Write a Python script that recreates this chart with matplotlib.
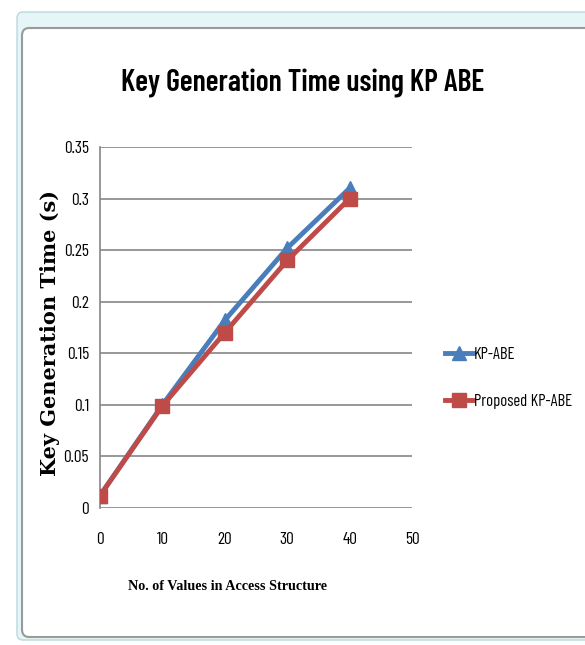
import matplotlib
matplotlib.use("Agg")
import matplotlib.pyplot as plt
from matplotlib.patches import FancyBboxPatch

x_values = [0, 10, 20, 30, 40]
kp_abe = [0.012, 0.100, 0.182, 0.252, 0.310]
proposed_kp_abe = [0.012, 0.099, 0.170, 0.240, 0.300]
series_names = ["KP-ABE", "Proposed KP-ABE"]
title = "Key Generation Time using KP ABE"
xlabel = "No. of Values in Access Structure"
ylabel = "Key Generation Time (s)"
yticks = [0, 0.05, 0.1, 0.15, 0.2, 0.25, 0.3, 0.35]
ytick_labels = ["0", "0.05", "0.1", "0.15", "0.2", "0.25", "0.3", "0.35"]
xticks = [0, 10, 20, 30, 40, 50]

NARROW = ["Barlow Condensed", "Carlito", "DejaVu Sans"]

W, H = 585, 645
fig = plt.figure(figsize=(W / 100, H / 100), dpi=100)

outer = FancyBboxPatch((17 / W, 1 - 640 / H), (W - 17 + 10) / W, (640 - 12) / H,
                       boxstyle="round,pad=0,rounding_size=0.01",
                       transform=fig.transFigure, facecolor="#e6f6f8",
                       edgecolor="#b8d8dc", lw=1.0, zorder=-3)
fig.patches.append(outer)
inner = FancyBboxPatch((22 / W, 1 - 637 / H), (W - 22 + 10) / W, (637 - 28) / H,
                       boxstyle="round,pad=0,rounding_size=0.012",
                       transform=fig.transFigure, facecolor="white",
                       edgecolor="#9a9a9a", lw=1.5, zorder=-2)
fig.patches.append(inner)

ax = fig.add_axes([100 / W, 1 - 508 / H, (412 - 100) / W, (508 - 147) / H])
ax.set_zorder(2)
ax.set_facecolor("none")
ax.plot(x_values, kp_abe, color="#4a7ebb", lw=3.5, marker="^", ms=10,
        label=series_names[0], zorder=3)
ax.plot(x_values, proposed_kp_abe, color="#be4b48", lw=3.5, marker="s", ms=10,
        label=series_names[1], zorder=4)

ax.set_xlim(0, 50)
ax.set_ylim(0, 0.35)
ax.set_yticks(yticks)
ax.set_yticklabels(ytick_labels)
ax.set_xticks(xticks)
ax.grid(axis="y", color="#868686", lw=1.2)
ax.set_axisbelow(True)
for s in ["top", "right", "bottom"]:
    ax.spines[s].set_visible(False)
ax.spines["left"].set_color("#868686")
ax.spines["left"].set_linewidth(1.2)
ax.tick_params(length=0, labelsize=12.5)
ax.tick_params(axis="y", pad=8)
ax.tick_params(axis="x", pad=17)
for lab in ax.get_xticklabels() + ax.get_yticklabels():
    lab.set_family(NARROW)

fig.text(228 / W, 1 - 587 / H, xlabel, family=["Liberation Serif", "DejaVu Serif"],
         fontweight="bold", fontsize=10.2, ha="center", va="center")
fig.text(50 / W, 1 - 333 / H, ylabel, family=["DejaVu Serif"], fontweight="bold",
         fontsize=15, ha="center", va="center", rotation=90)

fig.text(303 / W, 1 - 83 / H, title, family=NARROW, fontweight=600,
         fontsize=21.5, ha="center", va="center")

leg = fig.legend(handles=ax.get_lines(), labels=series_names, loc="center left",
                 bbox_to_anchor=(433 / W, 1 - 378 / H), frameon=False,
                 prop={"family": NARROW, "size": 12}, handlelength=1.7,
                 handletextpad=0.05, labelspacing=1.9, borderpad=0.2)

fig.savefig("out.png", dpi=100)
